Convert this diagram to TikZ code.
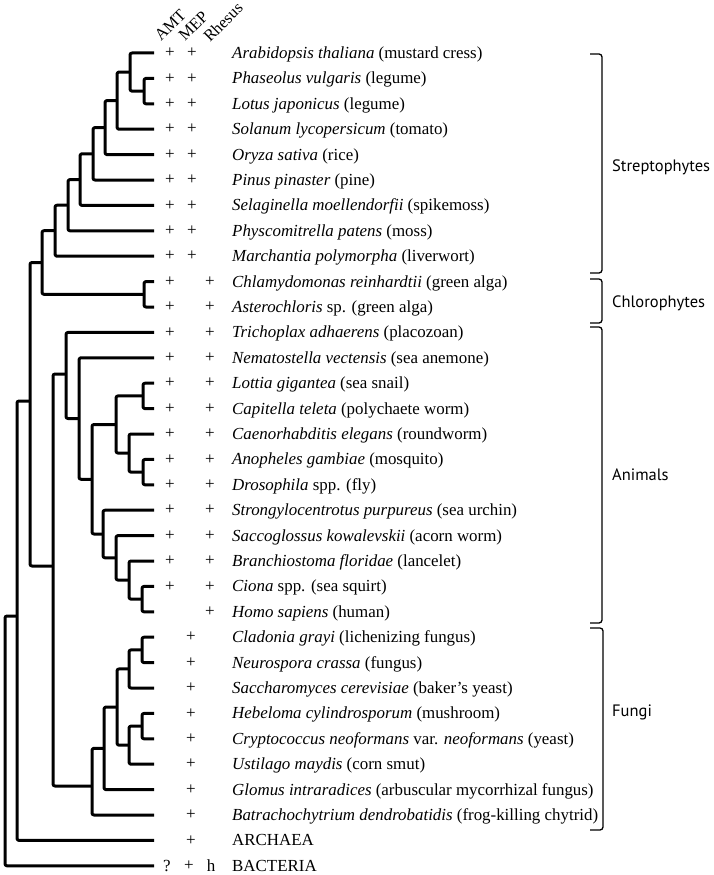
\documentclass[tikz,border=0pt]{standalone}
\usepackage{fontspec}
\setmainfont{Liberation Serif}
\newfontfamily\grpfont{PT Sans}
\begin{document}
\begin{tikzpicture}[x=1pt,y=-1pt,
  br/.style={line width=3pt, line join=round, rounded corners=2pt},
  lab/.style={anchor=base west, inner sep=0pt, font=\fontsize{16.9}{19}\selectfont},
  pl/.style={anchor=base, inner sep=0pt, font=\fontsize{17}{19}\selectfont},
  hdr/.style={anchor=base west, inner sep=0pt, rotate=45, font=\fontsize{16.5}{18}\selectfont},
  grp/.style={anchor=base west, inner sep=0pt, font=\grpfont\fontsize{16.5}{20}\selectfont},
  brk/.style={line width=1.3pt, rounded corners=3pt}]
\useasboundingbox (0,0) rectangle (714,875);
% leaf tips
\foreach \i in {0,...,32} \coordinate (t\i) at (154,{53+25.4*\i});
% internal nodes
\coordinate (PL)   at (144,91.1);
\coordinate (APL)  at (130,72.05);
\coordinate (S3)   at (117,100.6);
\coordinate (S4)   at (105,127.6);
\coordinate (S5)   at (93,153.8);
\coordinate (S6)   at (80,179.6);
\coordinate (S7)   at (68,205.2);
\coordinate (S8)   at (55,230.7);
\coordinate (Chl)  at (144,294.3);
\coordinate (Pla)  at (42,262.5);
\coordinate (LC)   at (143,395.9);
\coordinate (AD)   at (143,472.1);
\coordinate (CAD)  at (129,453.05);
\coordinate (Pro)  at (116,424.5);
\coordinate (CH)   at (142,599.1);
\coordinate (BCH)  at (129,580.05);
\coordinate (SBCH) at (116,557.8);
\coordinate (Deu)  at (103,534);
\coordinate (Bil)  at (92,479.25);
\coordinate (NB)   at (79,418.5);
\coordinate (Ani)  at (66,374);
\coordinate (Opi)  at (53,566);
\coordinate (CN)   at (142,649.9);
\coordinate (CNS)  at (129,668.95);
\coordinate (HC)   at (142,726.1);
\coordinate (HCU)  at (129,745.15);
\coordinate (Dik)  at (117,707.05);
\coordinate (DG)   at (104,748.3);
\coordinate (Fun)  at (92,786);
\coordinate (Euk)  at (30,401);
\coordinate (EA)   at (17,616);
\coordinate (Root) at (5,741);
% branches
\draw[br] (t1) -| (PL) |- (t2);
\draw[br] (t0) -| (APL) |- (PL);
\draw[br] (APL) -| (S3) |- (t3);
\draw[br] (S3) -| (S4) |- (t4);
\draw[br] (S4) -| (S5) |- (t5);
\draw[br] (S5) -| (S6) |- (t6);
\draw[br] (S6) -| (S7) |- (t7);
\draw[br] (S7) -| (S8) |- (t8);
\draw[br] (t9) -| (Chl) |- (t10);
\draw[br] (S8) -| (Pla) |- (Chl);
\draw[br] (t13) -| (LC) |- (t14);
\draw[br] (t16) -| (AD) |- (t17);
\draw[br] (t15) -| (CAD) |- (AD);
\draw[br] (LC) -| (Pro) |- (CAD);
\draw[br] (t21) -| (CH) |- (t22);
\draw[br] (t20) -| (BCH) |- (CH);
\draw[br] (t19) -| (SBCH) |- (BCH);
\draw[br] (t18) -| (Deu) |- (SBCH);
\draw[br] (Pro) -| (Bil) |- (Deu);
\draw[br] (t12) -| (NB) |- (Bil);
\draw[br] (t11) -| (Ani) |- (NB);
\draw[br] (t23) -| (CN) |- (t24);
\draw[br] (CN) -| (CNS) |- (t25);
\draw[br] (t26) -| (HC) |- (t27);
\draw[br] (HC) -| (HCU) |- (t28);
\draw[br] (CNS) -| (Dik) |- (HCU);
\draw[br] (Dik) -| (DG) |- (t29);
\draw[br] (DG) -| (Fun) |- (t30);
\draw[br] (Ani) -| (Opi) |- (Fun);
\draw[br] (Pla) -| (Euk) |- (Opi);
\draw[br] (Euk) -| (EA) |- (t31);
\draw[br] (EA) -| (Root) |- (t32);
% headers
\node[hdr] (hAMT) at (161,42) {AMT};
\node[hdr] (hMEP) at (185,42) {MEP};
\node[hdr] (hRh) at (210,43) {Rhesus};
% plus signs
\foreach \i in {0,...,8} {
  \node[pl] (amt\i) at (170,{57.6+25.4*\i}) {+};
  \node[pl] (mep\i) at (192,{57.6+25.4*\i}) {+};
}
\foreach \i in {9,...,21} {
  \node[pl] (amt\i) at (170,{57.6+25.4*\i}) {+};
  \node[pl] (rh\i) at (210,{57.6+25.4*\i}) {+};
}
\node[pl] (rh22) at (210,{57.6+25.4*22}) {+};
\foreach \i in {23,...,31} \node[pl] (mep\i) at (191,{57.6+25.4*\i}) {+};
\node[pl] (q32) at (167,{58.5+25.4*32}) {?};
\node[pl] (mep32) at (189,{57.6+25.4*32}) {+};
\node[pl] (h32) at (211,{58.5+25.4*32}) {h};
% species
\def\sy#1{58.5+25.4*#1}
\node[lab] (n0) at (232,{\sy{0}}) {\textit{Arabidopsis thaliana} (mustard cress)};
\node[lab] (n1) at (232,{\sy{1}}) {\textit{Phaseolus vulgaris} (legume)};
\node[lab] (n2) at (232,{\sy{2}}) {\textit{Lotus japonicus} (legume)};
\node[lab] (n3) at (232,{\sy{3}}) {\textit{Solanum lycopersicum} (tomato)};
\node[lab] (n4) at (232,{\sy{4}}) {\textit{Oryza sativa} (rice)};
\node[lab] (n5) at (232,{\sy{5}}) {\textit{Pinus pinaster} (pine)};
\node[lab] (n6) at (232,{\sy{6}}) {\textit{Selaginella moellendorfii} (spikemoss)};
\node[lab] (n7) at (232,{\sy{7}}) {\textit{Physcomitrella patens} (moss)};
\node[lab] (n8) at (232,{\sy{8}}) {\textit{Marchantia polymorpha} (liverwort)};
\node[lab] (n9) at (232,{\sy{9}}) {\textit{Chlamydomonas reinhardtii} (green alga)};
\node[lab] (n10) at (232,{\sy{10}}) {\textit{Asterochloris} sp. (green alga)};
\node[lab] (n11) at (232,{\sy{11}}) {\textit{Trichoplax adhaerens} (placozoan)};
\node[lab] (n12) at (232,{\sy{12}}) {\textit{Nematostella vectensis} (sea anemone)};
\node[lab] (n13) at (232,{\sy{13}}) {\textit{Lottia gigantea} (sea snail)};
\node[lab] (n14) at (232,{\sy{14}}) {\textit{Capitella teleta} (polychaete worm)};
\node[lab] (n15) at (232,{\sy{15}}) {\textit{Caenorhabditis elegans} (roundworm)};
\node[lab] (n16) at (232,{\sy{16}}) {\textit{Anopheles gambiae} (mosquito)};
\node[lab] (n17) at (232,{\sy{17}}) {\textit{Drosophila} spp. (fly)};
\node[lab] (n18) at (232,{\sy{18}}) {\textit{Strongylocentrotus purpureus} (sea urchin)};
\node[lab] (n19) at (232,{\sy{19}}) {\textit{Saccoglossus kowalevskii} (acorn worm)};
\node[lab] (n20) at (232,{\sy{20}}) {\textit{Branchiostoma floridae} (lancelet)};
\node[lab] (n21) at (232,{\sy{21}}) {\textit{Ciona} spp. (sea squirt)};
\node[lab] (n22) at (232,{\sy{22}}) {\textit{Homo sapiens} (human)};
\node[lab] (n23) at (232,{\sy{23}}) {\textit{Cladonia grayi} (lichenizing fungus)};
\node[lab] (n24) at (232,{\sy{24}}) {\textit{Neurospora crassa} (fungus)};
\node[lab] (n25) at (232,{\sy{25}}) {\textit{Saccharomyces cerevisiae} (baker’s yeast)};
\node[lab] (n26) at (232,{\sy{26}}) {\textit{Hebeloma cylindrosporum} (mushroom)};
\node[lab] (n27) at (232,{\sy{27}}) {\textit{Cryptococcus neoformans} var. \textit{neoformans} (yeast)};
\node[lab] (n28) at (232,{\sy{28}}) {\textit{Ustilago maydis} (corn smut)};
\node[lab] (n29) at (232,{\sy{29}}) {\textit{Glomus intraradices} (arbuscular mycorrhizal fungus)};
\node[lab] (n30) at (232,{\sy{30}}) {\textit{Batrachochytrium dendrobatidis} (frog-killing chytrid)};
\node[lab] (n31) at (232,{\sy{31}}) {ARCHAEA};
\node[lab] (n32) at (232,{\sy{32}}) {BACTERIA};
% brackets
\draw[brk] (590,54) -- (602,54) -- (602,273) -- (590,273);
\draw[brk] (590,279) -- (602,279) -- (602,323) -- (590,323);
\draw[brk] (590,327) -- (602,327) -- (602,623) -- (590,623);
\draw[brk] (590,628) -- (603,628) -- (603,830) -- (590,830);
\node[grp] (gS) at (612,171.5) {Streptophytes};
\node[grp] (gC) at (612,307) {Chlorophytes};
\node[grp] (gA) at (612,480) {Animals};
\node[grp] (gF) at (612,716.5) {Fungi};
\end{tikzpicture}
\end{document}
